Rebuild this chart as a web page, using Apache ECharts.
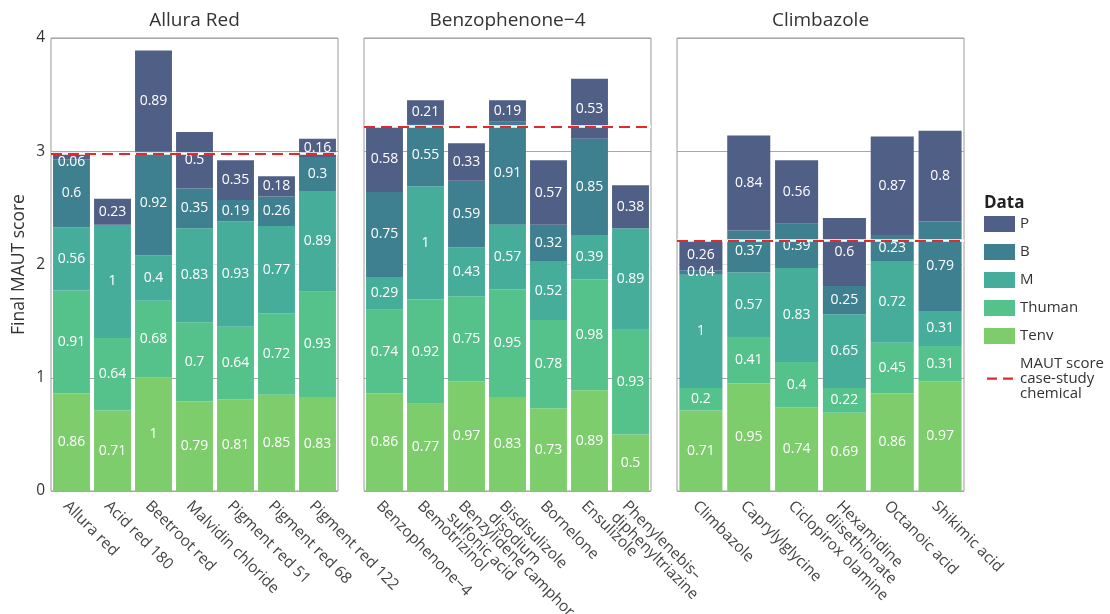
<!DOCTYPE html>
<html><head><meta charset="utf-8">
<script src="https://cdn.jsdelivr.net/npm/echarts@6/dist/echarts.min.js"></script>
<style>html,body{margin:0;padding:0;background:#fff}#c{width:1110px;height:614px}</style>
</head><body><div id="c"></div>
<script>
const panels = ['Allura Red', 'Benzophenone\u22124', 'Climbazole'];
const cats0 = ['Allura red','Acid red 180','Beetroot red','Malvidin chloride','Pigment red 51','Pigment red 68','Pigment red 122'];
const cats1 = ['Benzophenone\u22124','Bemotrizinol','Benzylidene camphor\nsulfonic acid','Bisdisulizole\ndisodium','Bornelone','Ensulizole','Phenylenebis\u2013\ndiphenyltriazine'];
const cats2 = ['Climbazole','Caprylylglycine','Ciclopirox olamine','Hexamidine\ndiisethionate','Octanoic acid','Shikimic acid'];

const tenv0   = [0.86, 0.71, 1,    0.79, 0.81, 0.85, 0.83];
const thuman0 = [0.91, 0.64, 0.68, 0.7,  0.64, 0.72, 0.93];
const m0      = [0.56, 1,    0.4,  0.83, 0.93, 0.77, 0.89];
const b0      = [0.6,  0,    0.92, 0.35, 0.19, 0.26, 0.3];
const p0      = [0.06, 0.23, 0.89, 0.5,  0.35, 0.18, 0.16];

const tenv1   = [0.86, 0.77, 0.97, 0.83, 0.73, 0.89, 0.5];
const thuman1 = [0.74, 0.92, 0.75, 0.95, 0.78, 0.98, 0.93];
const m1      = [0.29, 1,    0.43, 0.57, 0.52, 0.39, 0.89];
const b1      = [0.75, 0.55, 0.59, 0.91, 0.32, 0.85, 0];
const p1      = [0.58, 0.21, 0.33, 0.19, 0.57, 0.53, 0.38];

const tenv2   = [0.71, 0.95, 0.74, 0.69, 0.86, 0.97];
const thuman2 = [0.2,  0.41, 0.4,  0.22, 0.45, 0.31];
const m2      = [1,    0.57, 0.83, 0.65, 0.72, 0.31];
const b2      = [0.04, 0.37, 0.39, 0.25, 0.23, 0.79];
const p2      = [0.26, 0.84, 0.56, 0.6,  0.87, 0.8];

const caseStudy = [2.98, 3.22, 2.21];
const yTicks = [0, 1, 2, 3, 4];

const seriesNames = ['Tenv', 'Thuman', 'M', 'B', 'P'];
const colors = {P: '#4f5f86', B: '#3e7f90', M: '#47ad9b', Thuman: '#55c28b', Tenv: '#7ecd6d'};
const RED = '#e5282a';
const mautName = 'MAUT score\ncase-study\nchemical';
const FONT = 'Open Sans';

const cats = [cats0, cats1, cats2];
const vals = [
  [tenv0, thuman0, m0, b0, p0],
  [tenv1, thuman1, m1, b1, p1],
  [tenv2, thuman2, m2, b2, p2]
];
const lefts = [51, 364, 677];
const gridW = 287;

const grids = [], xAxes = [], yAxes = [], series = [], titles = [];
const topSeriesIdx = new Set();
for (let i = 0; i < 3; i++) {
  grids.push({left: lefts[i], top: 38, width: gridW, height: 453, show: true,
    borderColor: '#9a9a9a', borderWidth: 1, backgroundColor: 'transparent',
    containLabel: false, outerBoundsMode: 'none'});
  xAxes.push({type: 'category', gridIndex: i, data: cats[i], boundaryGap: true,
    axisLine: {show: false}, axisTick: {show: false},
    axisLabel: {rotate: -45, interval: 0, margin: 7, fontSize: 15.5, color: '#444',
      fontFamily: FONT, verticalAlign: 'top', lineHeight: 16}});
  yAxes.push({type: 'value', gridIndex: i, min: yTicks[0], max: yTicks[yTicks.length - 1], interval: 1,
    axisLine: {show: false}, axisTick: {show: false},
    axisLabel: {show: i === 0, fontSize: 15.5, color: '#333', fontFamily: FONT, margin: 6},
    splitLine: {show: true, lineStyle: {color: ['#a8a8a8', '#a8a8a8', '#e3e3e3', '#a8a8a8', '#a8a8a8'], width: 1}},
    name: i === 0 ? 'Final MAUT score' : '', nameLocation: 'middle', nameGap: 23,
    nameTextStyle: {fontSize: 17.5, color: '#333', fontFamily: FONT}});
  titles.push({text: panels[i], left: lefts[i] + gridW / 2, top: 11, padding: 0, textAlign: 'center',
    textStyle: {fontSize: 19, fontWeight: 'normal', color: '#333', fontFamily: FONT}});
  for (let s = 0; s < 5; s++) {
    const nm = seriesNames[s];
    if (nm === 'P') topSeriesIdx.add(series.length);
    series.push({type: 'bar', name: nm, xAxisIndex: i, yAxisIndex: i, stack: 'st' + i,
      barCategoryGap: '10%', data: vals[i][s],
      itemStyle: {color: colors[nm]},
      label: {show: true, position: 'inside', color: '#fff', fontSize: 14, fontFamily: FONT,
        formatter: p => (p.value === 0 ? '' : String(p.value))}});
  }
  series.push({type: 'line', name: mautName, xAxisIndex: i, yAxisIndex: i, data: [], symbol: 'none',
    lineStyle: {color: RED, type: [10, 6], width: 2}, itemStyle: {color: RED}, z: 5,
    markLine: {silent: true, symbol: ['none', 'none'], label: {show: false}, animation: false,
      data: [
        {yAxis: caseStudy[i], lineStyle: {color: '#ffffff', type: 'solid', width: 2.5}},
        {yAxis: caseStudy[i], lineStyle: {color: RED, type: [11, 6], width: 2}}
      ]}});
}
titles.push({text: 'Data', left: 984, top: 195, padding: 0,
  textStyle: {fontSize: 17, fontWeight: 'bold', color: '#222', fontFamily: FONT}});

const chart = echarts.init(document.getElementById('c'), null, {renderer: 'canvas'});
chart.setOption({
  animation: false,
  backgroundColor: '#fff',
  title: titles,
  grid: grids,
  xAxis: xAxes,
  yAxis: yAxes,
  legend: {orient: 'vertical', left: 984, top: 216, padding: 0, itemWidth: 31, itemHeight: 16, itemGap: 12,
    textStyle: {fontSize: 15, color: '#333', fontFamily: FONT, lineHeight: 15},
    data: [
      {name: 'P', icon: 'rect'}, {name: 'B', icon: 'rect'}, {name: 'M', icon: 'rect'},
      {name: 'Thuman', icon: 'rect'}, {name: 'Tenv', icon: 'rect'},
      {name: mautName, icon: 'path://M0,0M31,16M3,7h10v2.2h-10zM19,7h10v2.2h-10z',
       itemStyle: {color: RED, borderWidth: 0}}
    ]},
  labelLayout: function (params) {
    if (topSeriesIdx.has(params.seriesIndex) && params.rect && params.rect.height < 8) {
      return {dy: 6};
    }
  },
  series: series
});
</script></body></html>
